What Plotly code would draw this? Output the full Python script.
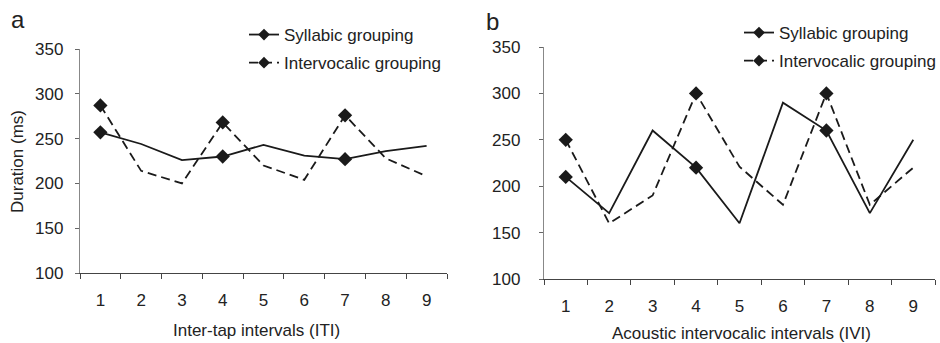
import plotly.graph_objects as go

intervals = [1, 2, 3, 4, 5, 6, 7, 8, 9]
marker_idx = [0, 3, 6]

iti_syllabic = [257, 244, 226, 230, 243, 231, 227, 236, 242]
iti_intervocalic = [287, 214, 200, 268, 220, 204, 276, 228, 208]

ivi_syllabic = [210, 171, 260, 220, 160, 290, 260, 171, 250]
ivi_intervocalic = [250, 160, 190, 300, 221, 180, 300, 180, 220]

y_ticks = [100, 150, 200, 250, 300, 350]
x_tick_labels = [str(v) for v in intervals]

FONT = "Liberation Sans, Arial, sans-serif"
INK = "#1a1a1a"
FS = 17

fig = go.Figure()

def add_panel(xa, ya, syl, inter, legend_name):
    for vals, dash, name, grp in [(syl, "solid", "Syllabic grouping", "s"),
                                  (inter, "9px,5px", "Intervocalic grouping", "i")]:
        fig.add_trace(go.Scatter(x=intervals, y=vals, mode="lines",
                                 line=dict(color=INK, width=1.8, dash=dash),
                                 xaxis=xa, yaxis=ya, showlegend=False, hoverinfo="skip"))
        fig.add_trace(go.Scatter(x=[intervals[i] for i in marker_idx],
                                 y=[vals[i] for i in marker_idx], mode="markers",
                                 marker=dict(symbol="diamond", size=11, color=INK),
                                 xaxis=xa, yaxis=ya, showlegend=False))
        fig.add_trace(go.Scatter(x=[None], y=[None], mode="lines+markers", name=name,
                                 line=dict(color=INK, width=1.8, dash=dash),
                                 marker=dict(symbol="diamond", size=9, color=INK),
                                 legendgroup=legend_name + grp,
                                 xaxis=xa, yaxis=ya, legend=legend_name))

add_panel("x", "y", iti_syllabic, iti_intervocalic, "legend")
add_panel("x2", "y2", ivi_syllabic, ivi_intervocalic, "legend2")

boundaries = [v - 0.5 for v in intervals] + [intervals[-1] + 0.5]

def xaxis(domain, anchor):
    return dict(domain=domain, anchor=anchor, range=[0.5, 9.5], showline=True,
                linecolor="#444", linewidth=1.3, showgrid=False, zeroline=False,
                tickvals=intervals, ticktext=x_tick_labels, ticks="",
                ticklabelstandoff=11, automargin=False,
                tickfont=dict(family=FONT, size=FS, color="#222"),
                minor=dict(tickvals=boundaries, ticks="outside", ticklen=5,
                           tickcolor="#444", tickwidth=1.3, showgrid=False))

def yaxis(domain, anchor, standoff):
    return dict(domain=domain, anchor=anchor, range=[100, 350], showline=True,
                linecolor="#888", linewidth=1.3, showgrid=False, zeroline=False,
                tickvals=y_ticks, ticks="outside", ticklen=4, tickcolor="#666",
                ticklabelstandoff=standoff, automargin=False,
                tickfont=dict(family=FONT, size=FS, color="#222"))

def legend(x, y):
    return dict(x=x / 940, y=1 - y / 343, xref="container", yref="container",
                xanchor="left", yanchor="top", bgcolor="rgba(0,0,0,0)",
                font=dict(family=FONT, size=FS, color="#222"),
                tracegroupgap=3, traceorder="grouped")

def ann(text, x, y, size=FS, angle=0):
    return dict(text=text, x=x / 940, y=1 - y / 343, xref="paper", yref="paper",
                xanchor="center", yanchor="middle", showarrow=False, textangle=angle,
                font=dict(family=FONT, size=size, color="#222"))

fig.update_layout(
    width=940, height=343, margin=dict(l=0, r=0, t=0, b=0, autoexpand=False),
    paper_bgcolor="white", plot_bgcolor="white",
    font=dict(family=FONT, size=FS, color="#222"),
    xaxis=xaxis([80/940, 447/940], "y"),
    yaxis=yaxis([(343-273)/343, (343-49)/343], "x", 8),
    xaxis2=xaxis([544/940, 935/940], "y2"),
    yaxis2=yaxis([(343-279)/343, (343-47)/343], "x2", 15),
    legend=legend(244, 17),
    legend2=legend(739, 15),
    annotations=[
        ann("a", 18, 20, size=24),
        ann("b", 492, 22, size=24),
        ann("Duration (ms)", 18, 162, angle=-90),
        ann("Inter-tap intervals (ITI)", 256, 330),
        ann("Acoustic intervocalic intervals (IVI)", 741, 333),
    ],
)

fig.write_html("out.html")
